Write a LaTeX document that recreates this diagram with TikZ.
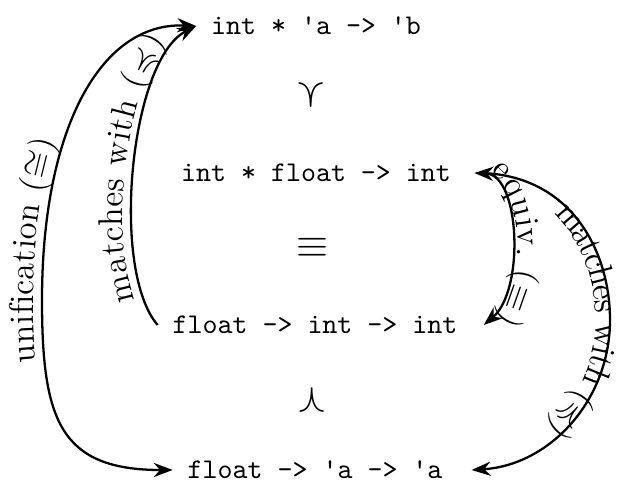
\documentclass[tikz,border=0pt]{standalone}
\usepackage{amssymb}
\usetikzlibrary{arrows.meta,decorations.text}
\begin{document}
\begin{tikzpicture}[x=0.35pt,y=0.35pt,
  ty/.style={font=\ttfamily, inner sep=5pt},
  rel/.style={font=\Large, inner sep=0pt},
  conn/.style={thick},
  lbl/.style 2 args={decorate, decoration={text along path, text align=center, raise=#1, text={#2}}}
]
\useasboundingbox (0,0) rectangle (623,485);
\node[ty] (top) at (316,459) {int * \textquotesingle a -> \textquotesingle b};
\node[rel] (cv) at (311,390) {$\curlyvee$};
\node[ty] (m1) at (316,312) {int * float -> int};
\node[rel] (eq) at (312,237) {$\equiv$};
\node[ty] (m2) at (315,160) {float -> int -> int};
\node[rel] (cw) at (312,85) {$\curlywedge$};
\node[ty] (bot) at (315,15) {float -> \textquotesingle a -> \textquotesingle a};

\large
% unification
\draw[conn,{Stealth}-{Stealth}] (bot.west) .. controls (60,15) and (42,65) .. (42,185) .. controls (42,355) and (100,463) .. (top.west);
\path[lbl={3pt}{unification ({$\cong$})}] (bot.west) .. controls (60,15) and (42,65) .. (42,185) .. controls (42,355) and (100,463) .. (top.west);

% left matches
\draw[conn,-{Stealth}] (m2.west) .. controls (110,215) and (130,425) .. (top.west);
\path[lbl={3pt}{matches with ({$\preccurlyeq$})}] (m2.west) .. controls (110,215) and (130,425) .. (top.west);

% equiv
\draw[conn,{Stealth}-{Stealth}] ([xshift=3pt]m1.east) .. controls (520,310) and (525,195) .. ([xshift=4pt]m2.east);
\path[lbl={2pt}{equiv. ({$\equiv$})}] ([xshift=3pt]m1.east) .. controls (520,310) and (525,195) .. ([xshift=4pt]m2.east);

% right matches
\draw[conn,-{Stealth}] ([xshift=5pt]m1.east) .. controls (570,310) and (610,235) .. (610,165) .. controls (610,85) and (550,20) .. ([xshift=5pt]bot.east);
\path[lbl={-5pt}{matches with ({$\preccurlyeq$})}] ([xshift=5pt]m1.east) .. controls (570,310) and (610,235) .. (610,165) .. controls (610,85) and (550,20) .. ([xshift=5pt]bot.east);
\end{tikzpicture}
\end{document}
